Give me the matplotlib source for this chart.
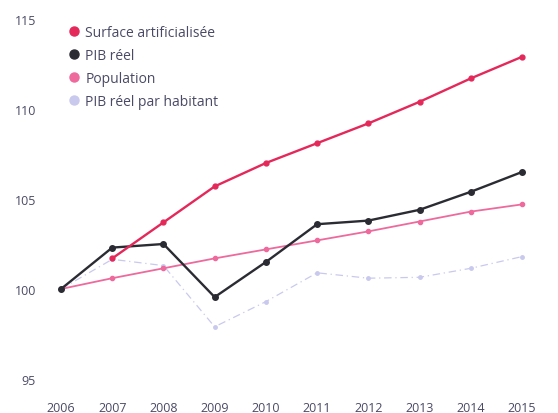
import numpy as np
import matplotlib
matplotlib.use("Agg")
import matplotlib.pyplot as plt
from matplotlib.lines import Line2D

plt.rcParams['font.family'] = ['Open Sans', 'DejaVu Sans']

# indices base 100 en 2006
years = [2006, 2007, 2008, 2009, 2010, 2011, 2012, 2013, 2014, 2015]
surface = [np.nan, 101.7, 103.7, 105.7, 107.0, 108.1, 109.2, 110.4, 111.7, 112.9]
pib = [100.0, 102.3, 102.5, 99.55, 101.5, 103.6, 103.8, 104.4, 105.4, 106.5]
population = [100.0, 100.6, 101.15, 101.7, 102.2, 102.7, 103.2, 103.75, 104.3, 104.7]
pib_hab = [100.0, 101.65, 101.3, 97.9, 99.3, 100.9, 100.6, 100.65, 101.15, 101.8]
yticks = [95, 100, 105, 110, 115]

labels = ['Surface artificialisée', 'PIB réel', 'Population', 'PIB réel par habitant']
colors = ['#e4285a', '#2b2b33', '#ee6a9c', '#c9c9ee']

W, H = 558, 414
fig = plt.figure(figsize=(W / 100, H / 100), dpi=100)
ax = fig.add_axes([61 / W, 1 - 380 / H, (522 - 61) / W, 360 / H])

ax.plot(years, pib_hab, color=colors[3], lw=0.9, ls=(0, (6, 3, 1, 3)),
        marker='o', ms=2.5, clip_on=False, zorder=2)
ax.plot(years, population, color=colors[2], lw=1.3, marker='o', ms=3,
        clip_on=False, zorder=3)
ax.plot(years, pib, color=colors[1], lw=1.7, marker='o', ms=4,
        clip_on=False, zorder=4)
ax.plot(years, surface, color=colors[0], lw=1.7, marker='o', ms=3.5,
        clip_on=False, zorder=5)

ax.set_xlim(2006, 2015)
ax.set_ylim(95, 115)
ax.set_xticks(years)
ax.set_yticks(yticks)
ax.tick_params(length=0, labelsize=9, labelcolor='#4a4a66')
ax.tick_params(axis='x', pad=16)
ax.tick_params(axis='y', pad=18)
for s in ax.spines.values():
    s.set_visible(False)

handles = [Line2D([], [], ls='none', marker='o', ms=6.5, color=c, mec=c)
           for c in colors]
leg = ax.legend(handles, labels, loc='upper left', frameon=False,
                bbox_to_anchor=(59 / W, 1 - 16 / H), bbox_transform=fig.transFigure,
                fontsize=10, handlelength=0.7, handletextpad=0.5,
                labelspacing=0.58, borderpad=0.2)
for t in leg.get_texts():
    t.set_color('#4a4a66')

fig.savefig('out.png', dpi=100)
